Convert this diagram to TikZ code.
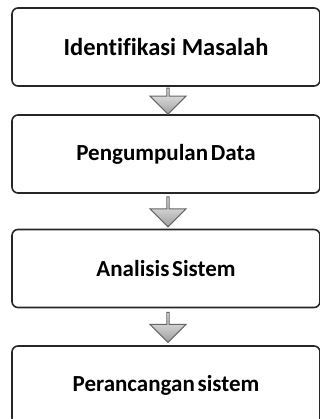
\documentclass[tikz,border=0pt]{standalone}
\usepackage{fontspec}
\setmainfont[Ligatures=NoCommon]{Carlito}
\usepackage{tikz}
\usetikzlibrary{shapes.arrows}
\usetikzlibrary{calc}

\newcommand{\tightwords}{\spaceskip=0.12em\relax}

\tikzset{
  stepbox/.style={draw=black!85, line width=1.6pt, rounded corners=6pt, fill=white,
    minimum width=308pt, minimum height=78pt, inner sep=0pt, outer sep=0pt,
    font=\bfseries\fontsize{23}{27}\selectfont\tightwords},
  downarrow/.style={single arrow, shape border rotate=270, draw=black!60, line width=1pt,
    top color=black!5, bottom color=black!38, minimum width=36pt,
    single arrow head extend=7pt, single arrow head indent=0pt, inner sep=0pt}
}

\begin{document}
\begin{tikzpicture}[x=1pt, y=1pt]
%%% alur penelitian %%%
\useasboundingbox (0,0) rectangle (320,-419);

      \node[stepbox, font=\bfseries\fontsize{24.5}{28}\selectfont] (identifikasi) at (166,-47) {Identifikasi Masalah};
      %%
      \node[stepbox] (pengumpulan) at (166,-154) {Pengumpulan Data};
      %%
      \node[stepbox] (analisis) at (166,-268.5) {Analisis Sistem};
      %%
      \node[stepbox] (perancangan) at (166,-385) {Perancangan sistem};

      %% panah
      \node[downarrow, minimum height=26pt] (a1) at ($(identifikasi.south)!0.5!(pengumpulan.north)+(2,0)$) {};
      \node[downarrow, minimum height=30pt] (a2) at ($(pengumpulan.south)!0.5!(analisis.north)+(2,0)$) {};
      \node[downarrow, minimum height=30pt] (a3) at ($(analisis.south)!0.5!(perancangan.north)+(2,0)$) {};

\end{tikzpicture}
\end{document}
